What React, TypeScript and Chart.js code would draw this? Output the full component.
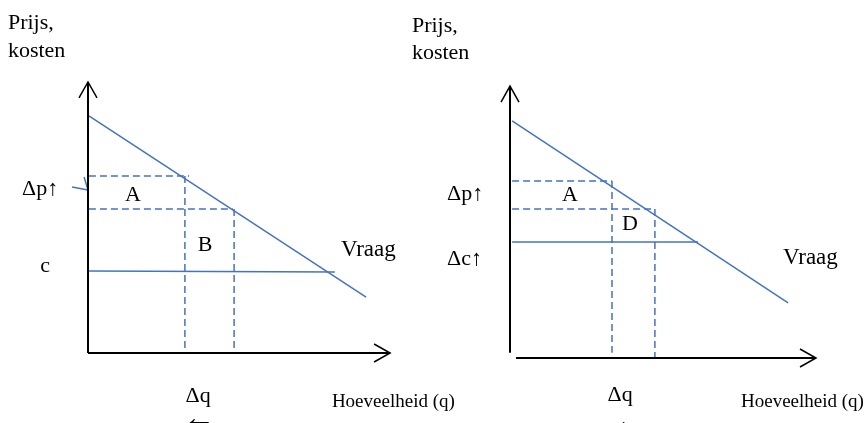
import React, { useEffect, useRef } from "react";
import { Chart, registerables } from "chart.js";

Chart.register(...registerables);

type P = { x: number; y: number };
type Label = { text: string; x: number; y: number; size: number; align: CanvasTextAlign; base: CanvasTextBaseline };

const BLUE = "#4472C4";
const SERIF = '"Liberation Serif", "Times New Roman", serif';

// ---------- Left diagram (units: q 0..10, p 0..10) ----------
const leftAxisY: P[] = [{ x: 0, y: 0 }, { x: 0, y: 10.04 }];
const leftAxisX: P[] = [{ x: 0, y: 0 }, { x: 10.07, y: 0 }];
const leftDemand: P[] = [{ x: 0.03, y: 8.78 }, { x: 9.27, y: 2.07 }];
const leftPriceHigh: P[] = [{ x: 0.03, y: 6.56 }, { x: 3.37, y: 6.56 }];
const leftPriceLow: P[] = [{ x: 0.03, y: 5.33 }, { x: 4.83, y: 5.33 }];
const leftQtyLow: P[] = [{ x: 3.23, y: 6.56 }, { x: 3.23, y: 0 }];
const leftQtyHigh: P[] = [{ x: 4.87, y: 5.33 }, { x: 4.87, y: 0 }];
const leftCost: P[] = [{ x: 0.03, y: 3.04 }, { x: 8.23, y: 3.0 }];
const leftPointer: P[] = [{ x: -0.53, y: 6.15 }, { x: 0, y: 6.04 }, { x: -0.13, y: 6.52 }];
const leftLabels: Label[] = [
  { text: "Prijs,", x: -2.67, y: 12.0, size: 22, align: "left", base: "alphabetic" },
  { text: "kosten", x: -2.67, y: 10.97, size: 22, align: "left", base: "alphabetic" },
  { text: "Δp↑", x: -2.2, y: 5.85, size: 22, align: "left", base: "alphabetic" },
  { text: "A", x: 1.5, y: 5.63, size: 22, align: "center", base: "alphabetic" },
  { text: "B", x: 3.9, y: 3.78, size: 22, align: "center", base: "alphabetic" },
  { text: "c", x: -1.43, y: 3.0, size: 22, align: "center", base: "alphabetic" },
  { text: "Vraag", x: 8.43, y: 3.59, size: 23, align: "left", base: "alphabetic" },
  { text: "Δq", x: 3.67, y: -1.81, size: 22, align: "center", base: "alphabetic" },
  { text: "←", x: 3.7, y: -2.45, size: 32, align: "center", base: "middle" },
  { text: "Hoeveelheid (q)", x: 8.13, y: -2.0, size: 19, align: "left", base: "alphabetic" },
];

// ---------- Right diagram ----------
const rightAxisY: P[] = [{ x: 0, y: 0.19 }, { x: 0, y: 10.07 }];
const rightAxisX: P[] = [{ x: 0.2, y: 0 }, { x: 10.2, y: 0 }];
const rightDemand: P[] = [{ x: 0.07, y: 8.78 }, { x: 9.27, y: 2.04 }];
const rightPriceHigh: P[] = [{ x: 0.07, y: 6.56 }, { x: 3.4, y: 6.56 }];
const rightPriceLow: P[] = [{ x: 0.07, y: 5.52 }, { x: 4.83, y: 5.52 }];
const rightQtyLow: P[] = [{ x: 3.4, y: 6.56 }, { x: 3.4, y: 0.19 }];
const rightQtyHigh: P[] = [{ x: 4.83, y: 5.52 }, { x: 4.83, y: 0 }];
const rightCost: P[] = [{ x: 0.07, y: 4.3 }, { x: 6.27, y: 4.3 }];
const rightLabels: Label[] = [
  { text: "Prijs,", x: -3.27, y: 12.07, size: 22, align: "left", base: "alphabetic" },
  { text: "kosten", x: -3.27, y: 11.07, size: 22, align: "left", base: "alphabetic" },
  { text: "Δp↑", x: -2.1, y: 5.85, size: 22, align: "left", base: "alphabetic" },
  { text: "Δc↑", x: -2.1, y: 3.45, size: 22, align: "left", base: "alphabetic" },
  { text: "A", x: 2.0, y: 5.8, size: 22, align: "center", base: "alphabetic" },
  { text: "D", x: 4.0, y: 4.75, size: 22, align: "center", base: "alphabetic" },
  { text: "Vraag", x: 9.1, y: 3.5, size: 23, align: "left", base: "alphabetic" },
  { text: "Δq", x: 3.67, y: -1.6, size: 22, align: "center", base: "alphabetic" },
  { text: "←", x: 3.95, y: -2.4, size: 32, align: "center", base: "middle" },
  { text: "Hoeveelheid (q)", x: 7.7, y: -1.8, size: 19, align: "left", base: "alphabetic" },
];

function seg(data: P[], color: string, width: number, dash: number[] = []) {
  return {
    data,
    showLine: true,
    borderColor: color,
    backgroundColor: color,
    borderWidth: width,
    borderDash: dash,
    pointRadius: 0,
    fill: false,
    clip: false as any,
    tension: 0,
  };
}

const decorPlugin = {
  id: "decor",
  afterDatasetsDraw(chart: any) {
    const opts = chart.options.plugins.decor;
    if (!opts) return;
    const ctx: CanvasRenderingContext2D = chart.ctx;
    const xs = chart.scales.x;
    const ys = chart.scales.y;
    ctx.save();
    ctx.strokeStyle = "#000";
    ctx.lineWidth = 1.5;
    for (const a of opts.arrows as { tip: P; dir: "up" | "right" }[]) {
      const tx = xs.getPixelForValue(a.tip.x);
      const ty = ys.getPixelForValue(a.tip.y);
      ctx.beginPath();
      if (a.dir === "up") {
        ctx.moveTo(tx - 9, ty + 16);
        ctx.lineTo(tx, ty);
        ctx.lineTo(tx + 9, ty + 16);
      } else {
        ctx.moveTo(tx - 16, ty - 9);
        ctx.lineTo(tx, ty);
        ctx.lineTo(tx - 16, ty + 9);
      }
      ctx.stroke();
    }
    ctx.fillStyle = "#000";
    for (const l of opts.labels as Label[]) {
      ctx.font = `${l.size}px ${SERIF}`;
      ctx.textAlign = l.align;
      ctx.textBaseline = l.base;
      ctx.fillText(l.text, xs.getPixelForValue(l.x), ys.getPixelForValue(l.y));
    }
    ctx.restore();
  },
};

function makeConfig(datasets: any[], labels: Label[], arrows: any[], padding: any) {
  return {
    type: "scatter" as const,
    data: { datasets },
    options: {
      animation: false as const,
      responsive: false,
      maintainAspectRatio: false,
      layout: { padding },
      events: [],
      scales: {
        x: { type: "linear" as const, min: 0, max: 10, display: false },
        y: { type: "linear" as const, min: 0, max: 10, display: false },
      },
      plugins: {
        legend: { display: false },
        tooltip: { enabled: false },
        decor: { labels, arrows },
      },
    },
    plugins: [decorPlugin],
  };
}

export default function App() {
  const leftRef = useRef<HTMLCanvasElement>(null);
  const rightRef = useRef<HTMLCanvasElement>(null);

  useEffect(() => {
    document.body.style.margin = "0";
    const DASH = [7, 4];
    const left = new Chart(
      leftRef.current!,
      makeConfig(
        [
          seg(leftAxisY, "#000", 2),
          seg(leftAxisX, "#000", 2),
          seg(leftDemand, BLUE, 1.5),
          seg(leftPriceHigh, BLUE, 1.5, DASH),
          seg(leftPriceLow, BLUE, 1.5, DASH),
          seg(leftQtyLow, BLUE, 1.5, DASH),
          seg(leftQtyHigh, BLUE, 1.5, DASH),
          seg(leftCost, BLUE, 1.5),
          seg(leftPointer, BLUE, 1.5),
        ],
        leftLabels,
        [
          { tip: leftAxisY[1], dir: "up" },
          { tip: leftAxisX[1], dir: "right" },
        ],
        { left: 88, right: 477, top: 83, bottom: 70 }
      ) as any
    );
    const right = new Chart(
      rightRef.current!,
      makeConfig(
        [
          seg(rightAxisY, "#000", 2),
          seg(rightAxisX, "#000", 2),
          seg(rightDemand, BLUE, 1.5),
          seg(rightPriceHigh, BLUE, 1.5, DASH),
          seg(rightPriceLow, BLUE, 1.5, DASH),
          seg(rightQtyLow, BLUE, 1.5, DASH),
          seg(rightQtyHigh, BLUE, 1.5, DASH),
          seg(rightCost, BLUE, 1.5),
        ],
        rightLabels,
        [
          { tip: rightAxisY[1], dir: "up" },
          { tip: rightAxisX[1], dir: "right" },
        ],
        { left: 510, right: 55, top: 88, bottom: 65 }
      ) as any
    );
    return () => {
      left.destroy();
      right.destroy();
    };
  }, []);

  return (
    <div style={{ position: "fixed", left: 0, top: 0, width: 865, height: 423, background: "#fff", overflow: "hidden" }}>
      <canvas ref={leftRef} width={865} height={423} style={{ position: "absolute", left: 0, top: 0, width: 865, height: 423 }} />
      <canvas ref={rightRef} width={865} height={423} style={{ position: "absolute", left: 0, top: 0, width: 865, height: 423 }} />
    </div>
  );
}
